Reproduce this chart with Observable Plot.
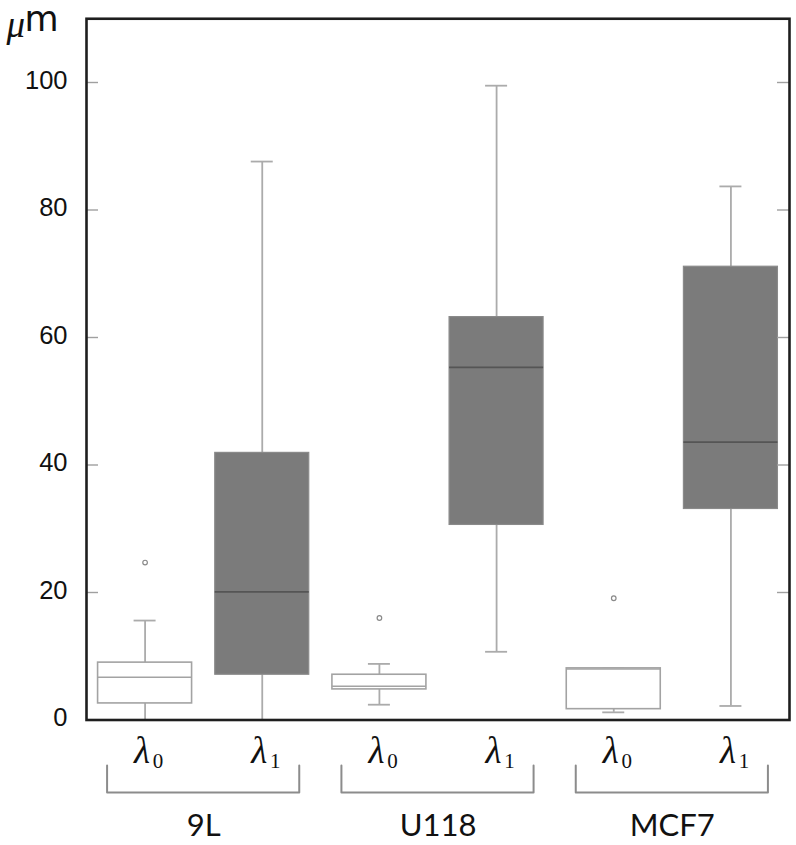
<!DOCTYPE html>
<html>
<head>
<meta charset="utf-8">
<script src="https://cdn.jsdelivr.net/npm/d3@7"></script>
<script src="https://cdn.jsdelivr.net/npm/@observablehq/plot@0.6"></script>
<style>
  html, body { margin: 0; padding: 0; background: #fff; }
  #chart { width: 796px; height: 845px; }
</style>
</head>
<body>
<div id="chart"></div>
<script>
// ---- data ----
const categories = ["λ0", "λ1", "λ0", "λ1", "λ0", "λ1"];
const subscripts = ["0", "1", "0", "1", "0", "1"];
const groups = ["9L", "U118", "MCF7"];
const whiskerLow  = [0.0, 0.0, 2.4, 10.7, 1.2, 2.2];
const q1          = [2.6, 7.1, 4.8, 30.6, 1.7, 33.1];
const medians     = [6.7, 20.1, 5.3, 55.3, 8.0, 43.6];
const q3          = [9.0, 41.9, 7.1, 63.2, 8.1, 71.1];
const whiskerHigh = [15.6, 87.6, 8.8, 99.5, 8.1, 83.7];
const outliers    = [24.7, null, 16.0, null, 19.1, null];
const yTicks = [0, 20, 40, 60, 80, 100];
const yUnit = "μm";

// ---- table built from the arrays ----
const rows = categories.map((c, i) => ({
  i, cat: c, sub: subscripts[i], group: groups[Math.floor(i / 2)],
  lo: whiskerLow[i], q1: q1[i], med: medians[i], q3: q3[i], hi: whiskerHigh[i], out: outliers[i]
}));
const outRows = rows.filter(d => d.out != null);
const groupRows = groups.map((g, k) => ({ g, a: 2 * k, b: 2 * k + 1 }));

// layout constants (pixel sizes expressed in scale units)
const W = 796, H = 845;
const mL = 86, mR = 7, mT = 18.25, mB = 125.5;
const xUnitPx = (W - mL - mR) / 6;          // px per category
const yUnitPx = (H - mT - mB) / 110;        // px per µm
const boxHalf = 47 / xUnitPx;
const capHalf = 11 / xUnitPx;
const tickLen = 12 / xUnitPx;
const brLeft = 38 / xUnitPx, brRight = 37 / xUnitPx;
const brTop = -45.5 / yUnitPx, brBottom = -72.5 / yUnitPx;

const whiskerStroke = "#ababab";
const sans = "Liberation Sans, Arial, sans-serif";
const serif = "Liberation Serif, Times New Roman, serif";

const bracketPath = (d) => [
  {x: d.a - brLeft, y: brTop, g: d.g},
  {x: d.a - brLeft, y: brBottom, g: d.g},
  {x: d.b + brRight, y: brBottom, g: d.g},
  {x: d.b + brRight, y: brTop, g: d.g}
];
const bracketPts = groupRows.flatMap(bracketPath);

const plot = Plot.plot({
  width: W, height: H,
  marginLeft: mL, marginRight: mR, marginTop: mT, marginBottom: mB,
  style: { fontFamily: sans, background: "#fff", overflow: "visible" },
  x: { domain: [-0.5, 5.5], axis: null },
  y: { domain: [0, 110], axis: null },
  marks: [
    // whiskers
    Plot.ruleX(rows, { x: "i", y1: "lo", y2: "q1", stroke: whiskerStroke, strokeWidth: 1.8 }),
    Plot.ruleX(rows, { x: "i", y1: "q3", y2: "hi", stroke: whiskerStroke, strokeWidth: 1.8 }),
    Plot.ruleY(rows, { y: "hi", x1: d => d.i - capHalf, x2: d => d.i + capHalf, stroke: whiskerStroke, strokeWidth: 1.8 }),
    Plot.ruleY(rows, { y: "lo", x1: d => d.i - capHalf, x2: d => d.i + capHalf, stroke: whiskerStroke, strokeWidth: 1.8 }),
    // boxes
    Plot.rect(rows.filter(d => d.cat === "λ0"), {
      x1: d => d.i - boxHalf, x2: d => d.i + boxHalf, y1: "q1", y2: "q3",
      fill: "#ffffff", stroke: "#a3a3a3", strokeWidth: 1.6
    }),
    Plot.rect(rows.filter(d => d.cat === "λ1"), {
      x1: d => d.i - boxHalf, x2: d => d.i + boxHalf, y1: "q1", y2: "q3",
      fill: "#7b7b7b", stroke: "#8a8a8a", strokeWidth: 1.2
    }),
    // medians
    Plot.ruleY(rows.filter(d => d.cat === "λ0"), { y: "med", x1: d => d.i - boxHalf, x2: d => d.i + boxHalf, stroke: "#a3a3a3", strokeWidth: 1.6 }),
    Plot.ruleY(rows.filter(d => d.cat === "λ1"), { y: "med", x1: d => d.i - boxHalf, x2: d => d.i + boxHalf, stroke: "#555555", strokeWidth: 1.8 }),
    // outliers
    Plot.dot(outRows, { x: "i", y: "out", r: 2.3, stroke: "#8a8a8a", strokeWidth: 1.2, fill: "none" }),
    // inner tick marks, left and right
    Plot.ruleY(yTicks, { y: d => d, x1: -0.5, x2: -0.5 + tickLen, stroke: "#a0a0a0", strokeWidth: 1.4 }),
    Plot.ruleY(yTicks, { y: d => d, x1: 5.5 - tickLen, x2: 5.5, stroke: "#a0a0a0", strokeWidth: 1.4 }),
    // frame
    Plot.frame({ stroke: "#1e1e1e", strokeWidth: 2.6 }),
    // y axis labels
    Plot.axisY({ ticks: yTicks, tickSize: 0, tickPadding: 19, fontSize: 25.5, fill: "#111", anchor: "left", label: null, tickFormat: d => String(d), fontFamily: sans, dy: -2 }),
    // unit label
    Plot.text([yUnit[0]], { x: -0.5, y: 110, text: d => d, dx: -80, dy: 6, textAnchor: "start", fontSize: 37, fontStyle: "italic", fontFamily: serif, fill: "#111" }),
    Plot.text([yUnit.slice(1)], { x: -0.5, y: 110, text: d => d, dx: -62, dy: 1, textAnchor: "start", fontSize: 35, fontFamily: "DejaVu Sans, sans-serif", fill: "#111" }),
    // lambda tick labels
    Plot.text(rows, { x: "i", y: 0, text: () => "λ", dx: -3, dy: 31.5, fontSize: 37, fontStyle: "italic", fontFamily: serif, fill: "#111" }),
    Plot.text(rows, { x: "i", y: 0, text: "sub", dx: 13, dy: 41, fontSize: 21, fontFamily: serif, fill: "#111" }),
    // group brackets
    Plot.line(bracketPts, { x: "x", y: "y", z: "g", stroke: "#8c8c8c", strokeWidth: 2, curve: "linear" }),
    // group labels
    Plot.text(groupRows, { x: d => (d.a + d.b) / 2, y: 0, text: "g", dy: 106.5, fontSize: 31, fontFamily: "Lato, sans-serif", fill: "#111" })
  ]
});
document.getElementById("chart").appendChild(plot);
</script>
</body>
</html>
